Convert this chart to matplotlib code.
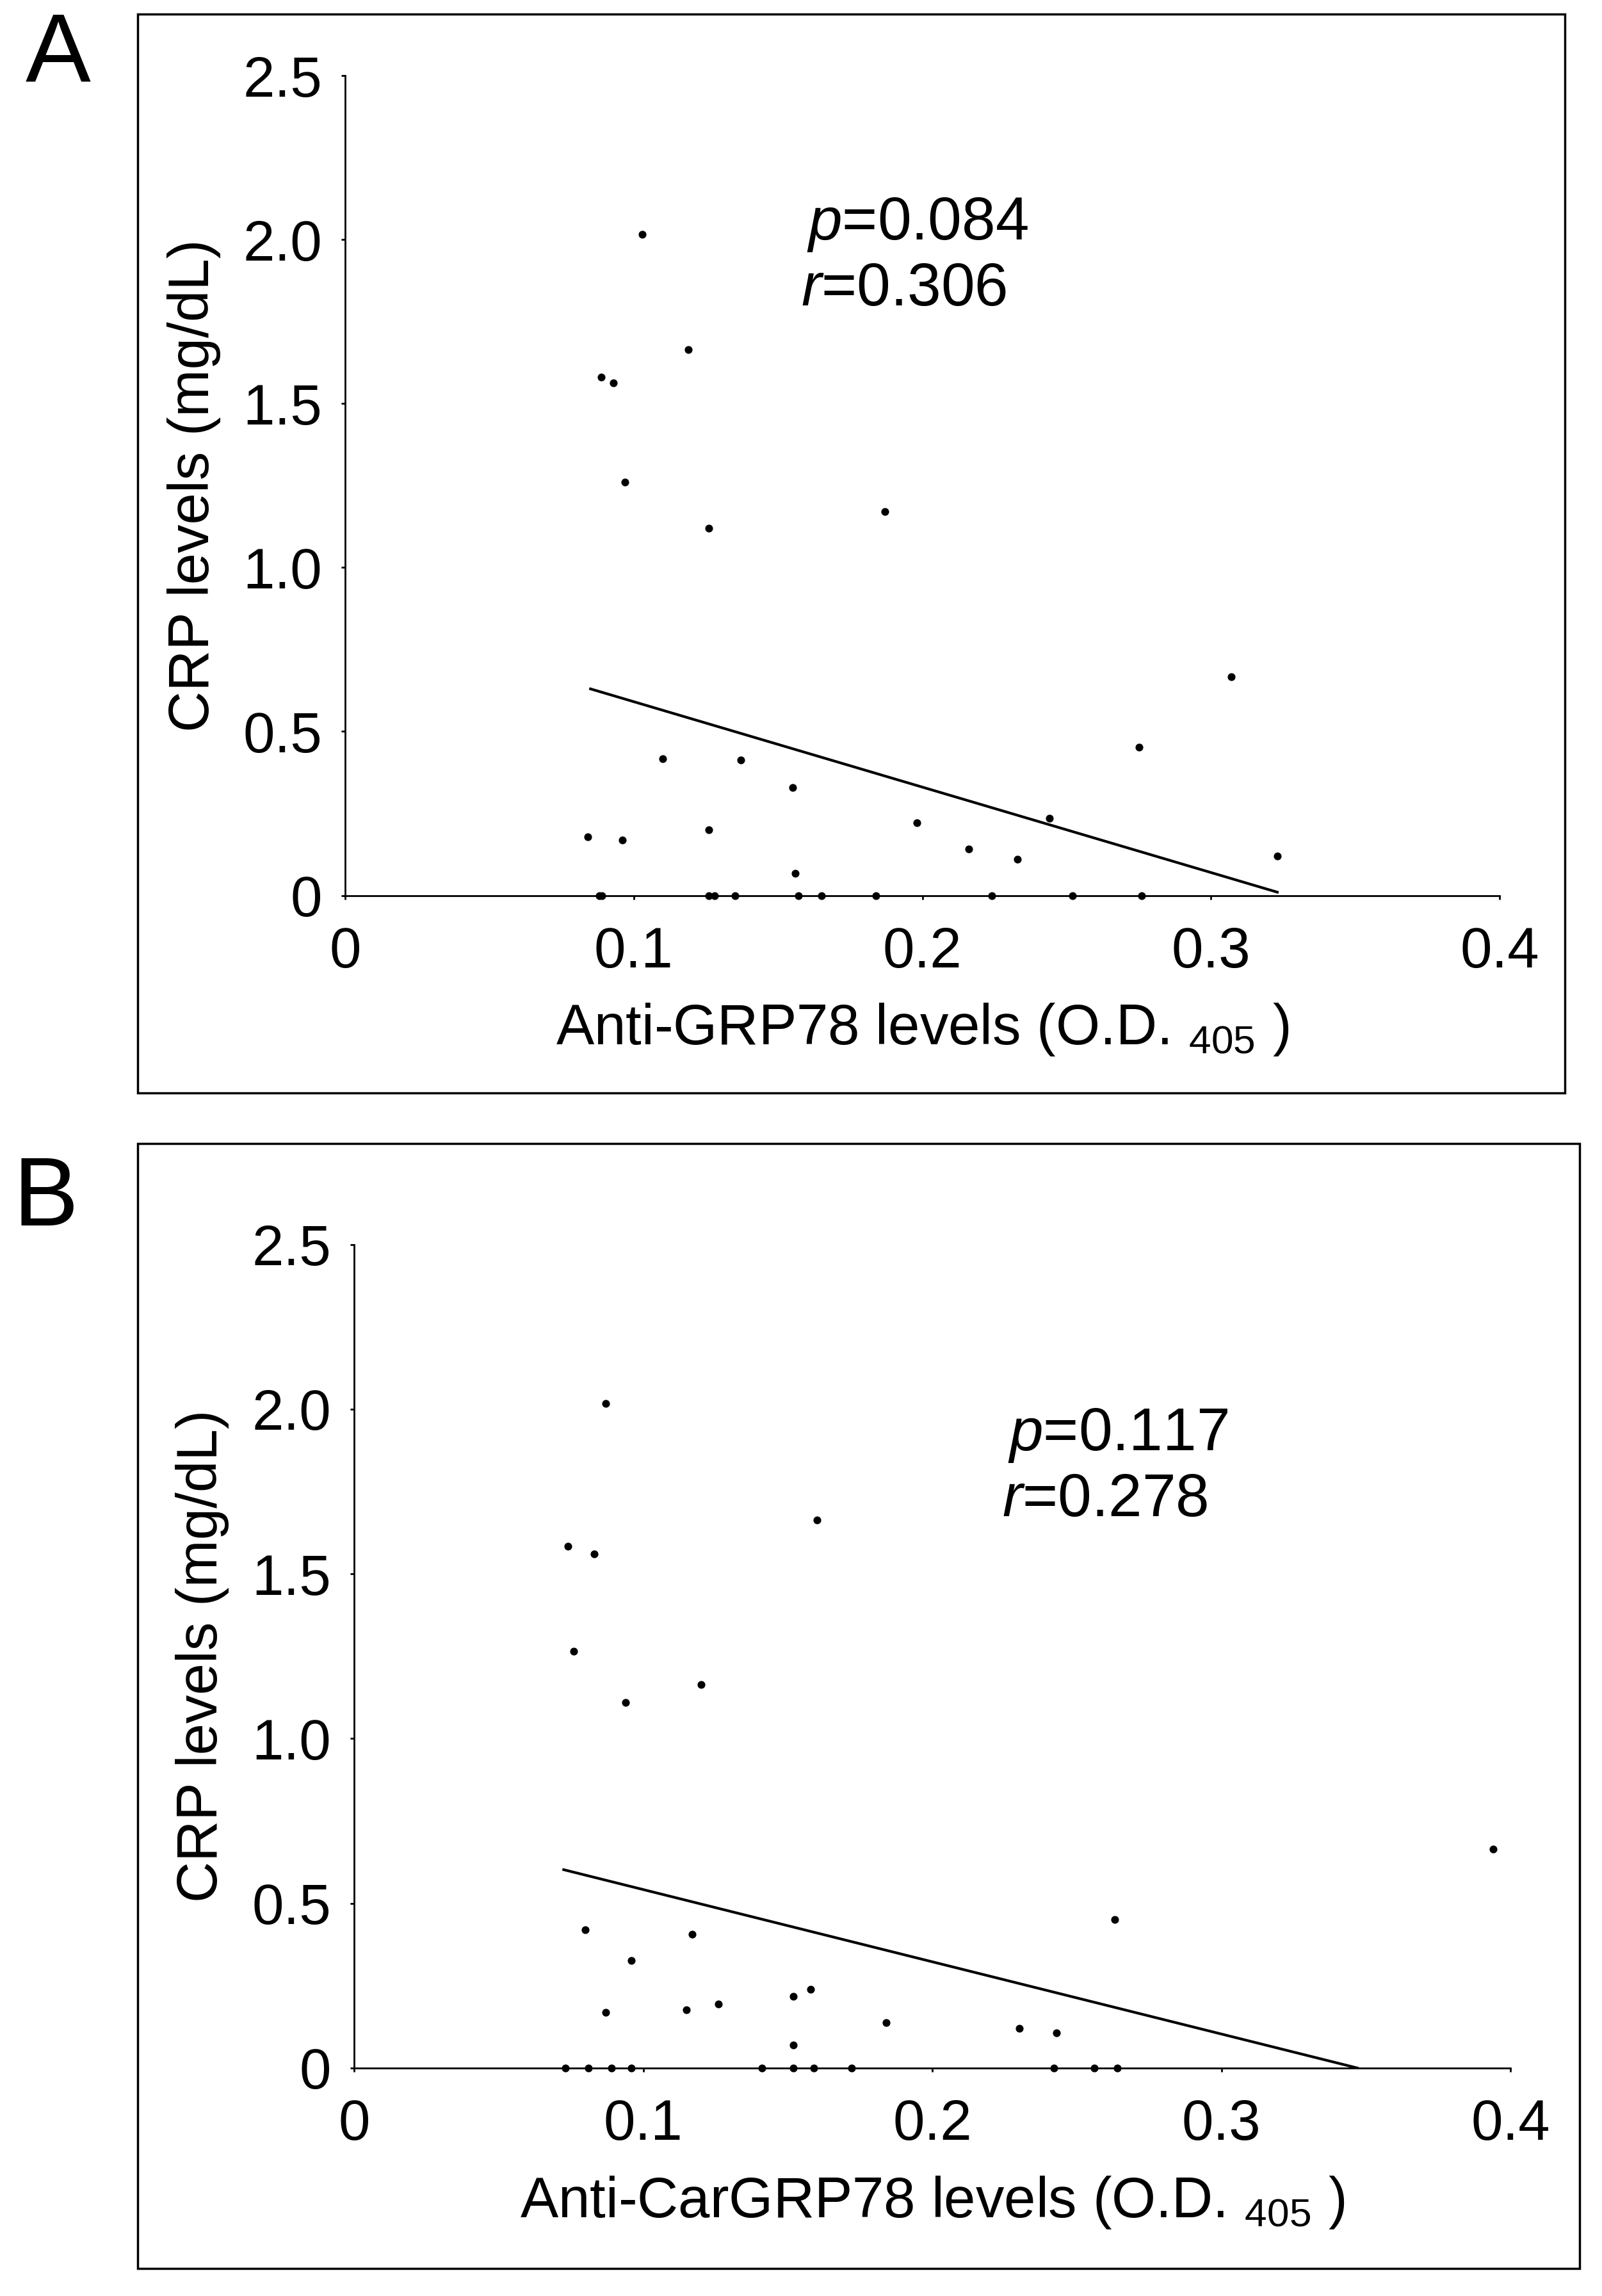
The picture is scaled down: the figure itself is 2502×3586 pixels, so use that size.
#####crp_vs_antigrp78.py#####

############################################################
#Scatter of CRP levels against anti-GRP78 / anti-CarGRP78  #
############################################################

import matplotlib.pyplot as plt   #visualizes data
import numpy as np                #mathematical library with built-in calculation tools
import matplotlib as mpl

plt.rcParams['font.family'] = 'Liberation Sans'
plt.rcParams['mathtext.fontset'] = 'custom'
plt.rcParams['mathtext.rm'] = 'Liberation Sans'
plt.rcParams['mathtext.it'] = 'Liberation Sans:italic'

#panel A data
grp_x = [0.084, 0.088, 0.089, 0.0888, 0.093, 0.096, 0.097, 0.103, 0.110, 0.119, 0.126, 0.126, 0.126, 0.128,
         0.135, 0.137, 0.155, 0.156, 0.157, 0.165, 0.184, 0.187, 0.198, 0.216, 0.224, 0.233, 0.244, 0.252,
         0.275, 0.276, 0.307, 0.323]
grp_y = [0.178, 0, 0, 1.58, 1.563, 0.169, 1.26, 2.016, 0.417, 1.665, 0.2, 1.12, 0, 0,
         0, 0.413, 0.329, 0.067, 0, 0, 0, 1.17, 0.222, 0.142, 0, 0.111, 0.235, 0,
         0.453, 0, 0.666, 0.12]
grp_fit_x = [0.085, 0.323]
grp_fit_y = [0.63, 0.01]

#panel B data
car_x = [0.073, 0.074, 0.076, 0.081, 0.080, 0.083, 0.087, 0.087, 0.089, 0.094, 0.096, 0.096, 0.115, 0.117,
         0.120, 0.126, 0.141, 0.152, 0.152, 0.152, 0.158, 0.159, 0.160, 0.172, 0.184, 0.230, 0.242, 0.243,
         0.256, 0.263, 0.264, 0.394]
car_y = [0, 1.584, 1.265, 0, 0.42, 1.56, 0.168, 2.018, 0, 1.11, 0.327, 0, 0.177, 0.407,
         1.164, 0.195, 0, 0.217, 0.07, 0, 0.239, 0, 1.664, 0, 0.137, 0.12, 0, 0.106,
         0, 0.451, 0, 0.664]
car_fit_x = [0.0725, 0.347]
car_fit_y = [0.602, 0.0]

xticks = [0, 0.1, 0.2, 0.3, 0.4]
xticklabels = ['0', '0.1', '0.2', '0.3', '0.4']
yticks = [0, 0.5, 1.0, 1.5, 2.0, 2.5]
yticklabels = ['0', '0.5', '1.0', '1.5', '2.0', '2.5']

fig = plt.figure(figsize=(25.02, 35.86), dpi=100)

#panel frames and letters
fig.patches.append(mpl.patches.Rectangle((0.086, 0.524), 0.891, 0.470, transform=fig.transFigure,
                                         fill=False, lw=2.5, color='black'))
fig.patches.append(mpl.patches.Rectangle((0.086, 0.012), 0.900, 0.490, transform=fig.transFigure,
                                         fill=False, lw=2.5, color='black'))
fig.text(0.016, 0.995, 'A', fontsize=110, va='top')
fig.text(0.008, 0.497, 'B', fontsize=110, va='top')


def panel(rect, x, y, fit_x, fit_y, xlabel, ptxt, rtxt, txtpos):
    ax = fig.add_axes(rect)
    ax.scatter(x, y, s=60, color='black', zorder=3, clip_on=False)
    ax.plot(fit_x, fit_y, color='black', lw=3)
    ax.set_xlim(0, 0.4)
    ax.set_ylim(0, 2.5)
    ax.spines['top'].set_visible(False)
    ax.spines['right'].set_visible(False)
    ax.spines['left'].set_linewidth(2)
    ax.spines['bottom'].set_linewidth(2)
    ax.set_xticks(xticks, xticklabels, fontsize=64)
    ax.set_yticks(yticks, yticklabels, fontsize=64)
    ax.tick_params(length=4, width=2, direction='out')
    ax.tick_params(axis='x', pad=30)
    ax.tick_params(axis='y', pad=22)
    ax.set_xlabel(xlabel, fontsize=64, labelpad=25)
    ax.set_ylabel('CRP levels (mg/dL)', fontsize=64, labelpad=25)
    ax.text(txtpos[0], txtpos[1], ptxt, fontsize=68, transform=ax.transAxes)
    ax.text(txtpos[0] - 0.005, txtpos[1] - 0.08, rtxt, fontsize=68, transform=ax.transAxes)
    return ax


panel([0.2155, 0.610, 0.7205, 0.357], grp_x, grp_y, grp_fit_x, grp_fit_y,
      'Anti-GRP78 levels (O.D. $_{405}$ )', '$\\mathit{p}$=0.084', '$\\mathit{r}$=0.306', (0.40, 0.80))
panel([0.221, 0.0993, 0.722, 0.3587], car_x, car_y, car_fit_x, car_fit_y,
      'Anti-CarGRP78 levels (O.D. $_{405}$ )', '$\\mathit{p}$=0.117', '$\\mathit{r}$=0.278', (0.565, 0.75))

fig.savefig('out.png')
